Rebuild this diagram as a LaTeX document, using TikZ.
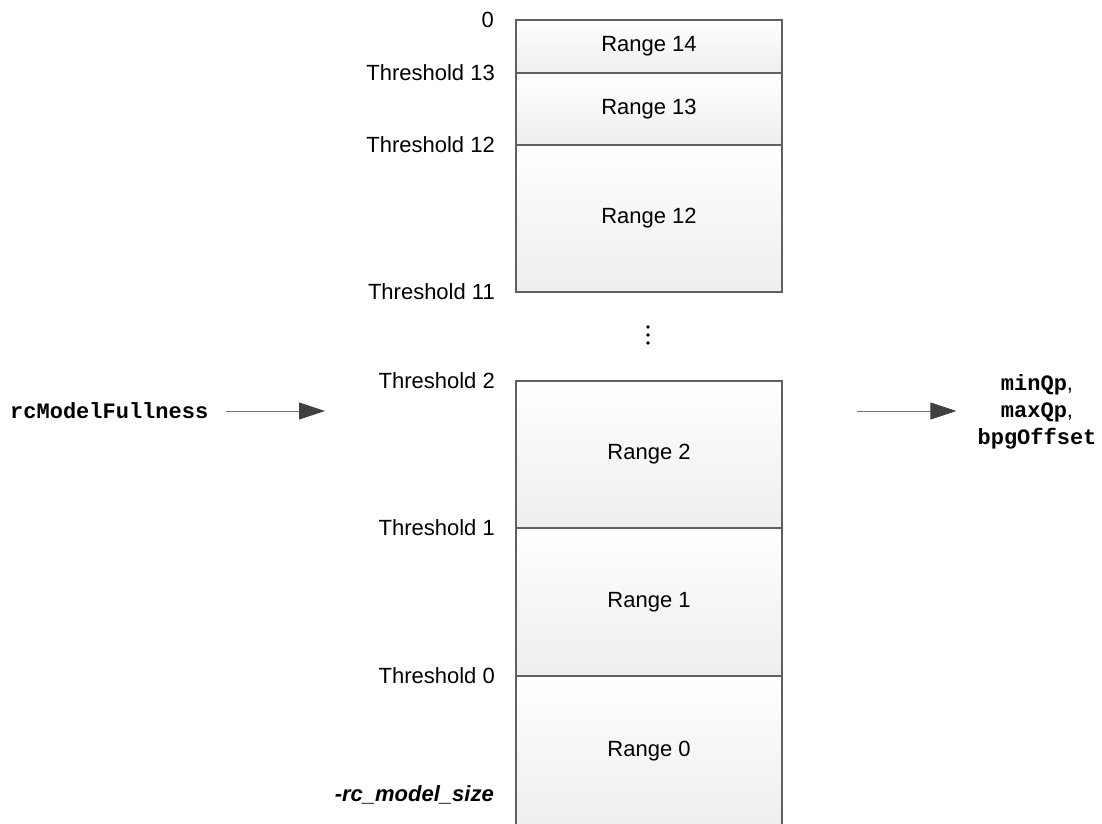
\documentclass[tikz,border=0pt]{standalone}
\usepackage{fontspec}
\setmainfont{Liberation Sans}
\setmonofont{Liberation Mono}
\usepackage{tikz}
\usetikzlibrary{arrows.meta}

\definecolor{edgegray}{RGB}{96,96,96}
\definecolor{cellbot}{RGB}{238,238,238}
\definecolor{headgray}{RGB}{64,64,64}

\begin{document}
\begin{tikzpicture}[x=1pt, y=-1pt, font=\fontsize{22}{27}\selectfont]
  \tikzset{cell/.style={draw=edgegray, line width=1.2pt, rectangle, inner sep=0pt,
                        minimum width=266pt, top color=white, bottom color=cellbot},
           thr/.style={anchor=east, inner sep=0pt},
           flow/.style={draw=gray!90!black, line width=1pt,
                        -{Triangle[length=26pt, width=17pt, color=headgray, fill=headgray]}}}

  \useasboundingbox (0,0) rectangle (1102,823);

  % ranges, top group and bottom group
  \foreach \n/\c/\h in {14/46.5/53, 13/109/72, 12/218.5/147,
                        2/454.5/147, 1/602/148, 0/751/150} {
    \node [cell, minimum height=\h pt] (r\n) at (649,\c) {Range \n};
  }

  % thresholds
  \node [thr] (top) at (494,20) {0};
  \foreach \n/\y in {13/73, 12/145, 11/292, 2/381, 1/528, 0/676} {
    \node [thr] (t\n) at (495,\y) {Threshold \n};
  }
  \node [thr] (bot) at (494,795) {\bfseries\itshape -rc\_model\_size};

  % gap between range 12 and range 2
  \foreach \y in {327, 335, 343} {
    \fill [black] (648,\y) circle (1.8pt);
  }

  % input and output
  \node [anchor=west, inner sep=0pt] (fullness) at (10,411)
        {\ttfamily\bfseries rcModelFullness};
  \coordinate (inA) at (325,411);
  \draw [flow] ([xshift=18pt]fullness.east) -- (inA);

  \node [align=center, inner sep=0pt] (outs) at (1037,412)
        {\texttt{\bfseries minQp},\\ \texttt{\bfseries maxQp},\\ \texttt{\bfseries bpgOffset}};
  \coordinate (outA) at (857,411);
  \draw [flow] (outA) -- ([xshift=-21pt]outA -| outs.west);

\end{tikzpicture}
\end{document}
